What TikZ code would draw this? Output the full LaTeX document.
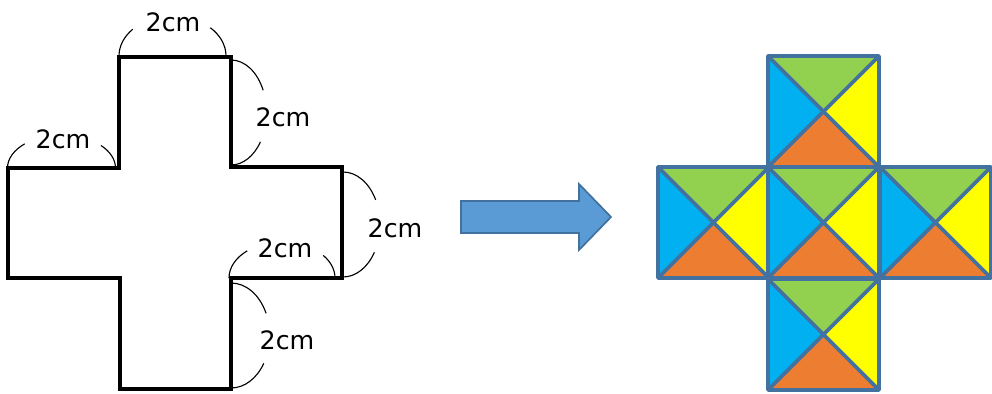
\documentclass[tikz,border=0pt]{standalone}
\usepackage{fontspec}
\setmainfont{DejaVu Sans}
\definecolor{tgreen}{HTML}{92D050}
\definecolor{tyellow}{HTML}{FFFF00}
\definecolor{torange}{HTML}{ED7D31}
\definecolor{tblue}{HTML}{00B0F0}
\definecolor{edgeblue}{HTML}{4472A0}
\definecolor{arrowfill}{HTML}{5B9BD5}
\definecolor{arrowedge}{HTML}{41719C}

\begin{document}
\begin{tikzpicture}[x=0.025cm, y=-0.025cm,
	lbl/.style={font=\fontsize{18}{20}\selectfont, inner sep=0pt},
	dimarc/.style={black, line width=0.8pt},
	edge/.style={edgeblue, line width=2.6pt, line join=round}]
	\useasboundingbox (0,0) rectangle (992,394);
	
	% the cross
	\coordinate (P1) at (119,57);
	\coordinate (P2) at (231,57);
	\coordinate (P3) at (231,167);
	\coordinate (P4) at (342,167);
	\coordinate (P5) at (342,278);
	\coordinate (P6) at (231,278);
	\coordinate (P7) at (231,389);
	\coordinate (P8) at (120,389);
	\coordinate (P9) at (120,278);
	\coordinate (P10) at (8,278);
	\coordinate (P11) at (8,168);
	\coordinate (P12) at (119,168);
	\draw[line width=2.4pt] (P1) -- (P2) -- (P3) -- (P4) -- (P5) -- (P6) -- (P7) -- (P8) -- (P9) -- (P10) -- (P11) -- (P12) -- cycle;
	
	% measure arcs
	\coordinate (C1) at (172.5,56);
	\draw[dimarc] (C1) ++(180:53.5 and 40) arc[start angle=180, end angle=222, x radius=53.5, y radius=40];
	\draw[dimarc] (C1) ++(315:53.5 and 40) arc[start angle=315, end angle=360, x radius=53.5, y radius=40];
	\node[lbl] (L1) at (173,22) {2cm};
	
	\coordinate (C2) at (231,112.5);
	\draw[dimarc] (C2) ++(-90:35.5 and 52.5) arc[start angle=-90, end angle=-25, x radius=35.5, y radius=52.5];
	\draw[dimarc] (C2) ++(34:35.5 and 52.5) arc[start angle=34, end angle=90, x radius=35.5, y radius=52.5];
	\node[lbl] (L2) at (283,117) {2cm};
	
	\coordinate (C3) at (61.5,168);
	\draw[dimarc] (C3) ++(180:54 and 33) arc[start angle=180, end angle=227, x radius=54, y radius=33];
	\draw[dimarc] (C3) ++(317:54 and 33) arc[start angle=317, end angle=360, x radius=54, y radius=33];
	\node[lbl] (L3) at (63,139) {2cm};
	
	\coordinate (C4) at (343,224.5);
	\draw[dimarc] (C4) ++(-90:37 and 52.5) arc[start angle=-90, end angle=-28, x radius=37, y radius=52.5];
	\draw[dimarc] (C4) ++(32:37 and 52.5) arc[start angle=32, end angle=90, x radius=37, y radius=52.5];
	\node[lbl] (L4) at (395,228) {2cm};
	
	\coordinate (C5) at (282,278);
	\draw[dimarc] (C5) ++(180:53 and 36) arc[start angle=180, end angle=229, x radius=53, y radius=36];
	\draw[dimarc] (C5) ++(321:53 and 36) arc[start angle=321, end angle=360, x radius=53, y radius=36];
	\node[lbl] (L5) at (285,248) {2cm};
	
	\coordinate (C6) at (231,335.5);
	\draw[dimarc] (C6) ++(-90:38.7 and 52.5) arc[start angle=-90, end angle=-25, x radius=38.7, y radius=52.5];
	\draw[dimarc] (C6) ++(32:38.7 and 52.5) arc[start angle=32, end angle=90, x radius=38.7, y radius=52.5];
	\node[lbl] (L6) at (287,340) {2cm};
	
	% block arrow
	\draw[fill=arrowfill, draw=arrowedge, line width=1.2pt, line join=miter]
		(461,201) -- (579,201) -- (579,184) -- (611,217) -- (579,250) -- (579,233) -- (461,233) -- cycle;
	
	% coloured net
	\foreach \sx/\sy in {768/56, 658/167, 768/167, 880/167, 768/279} {
		\coordinate (A) at (\sx,\sy);
		\coordinate (B) at (\sx+111,\sy);
		\coordinate (C) at (\sx+111,\sy+111);
		\coordinate (D) at (\sx,\sy+111);
		\coordinate (M) at (\sx+55.5,\sy+55.5);
		\fill[tgreen] (A) -- (B) -- (M) -- cycle;
		\fill[tyellow] (B) -- (C) -- (M) -- cycle;
		\fill[torange] (C) -- (D) -- (M) -- cycle;
		\fill[tblue] (D) -- (A) -- (M) -- cycle;
		\draw[edge] (A) -- (B) -- (C) -- (D) -- cycle;
		\draw[edge] (A) -- (C);
		\draw[edge] (B) -- (D);
	}
\end{tikzpicture}
\end{document}
